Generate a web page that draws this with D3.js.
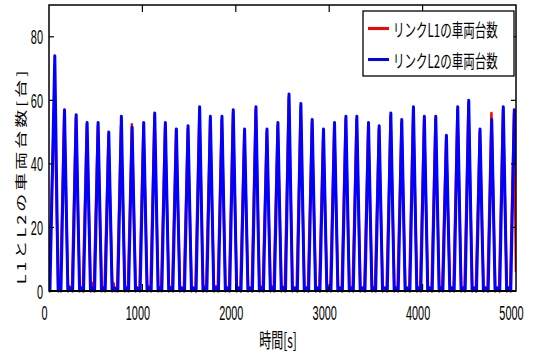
<!DOCTYPE html>
<html>
<head>
<meta charset="utf-8">
<script src="https://cdn.jsdelivr.net/npm/d3@7"></script>
<style>
  html, body { margin: 0; padding: 0; background: #fff; }
  svg { display: block; }
</style>
</head>
<body>
<svg id="chart" width="533" height="356"></svg>
<script>
// Vehicle count on link L1 (red) — [time s, vehicles]
const l1Points = [
  [0,0],[58,61],[100,0],[112,1.5],[120,0],
  [163,56],[204,0],[216,1.5],[245,0],
  [288,54.5],[329,0],[341,1],[362,0],
  [405,52.5],[446,0],[458,0],[468,2.5],[478,0],[480,0],
  [523,52],[564,0],[576,1],[594,0],
  [637,49],[678,0],[690,2.5],[705,0],[729,0],
  [771,52],[813,0],[825,1],[844,0],
  [887,52.5],[928,0],[940,1],[968,0],
  [1011,52],[1052,0],[1062,1.5],[1086,0],
  [1129,55],[1170,0],[1182,1],[1200,0],
  [1243,52],[1284,0],[1290,1.5],[1318,0],
  [1361,51],[1402,0],[1414,1],[1443,0],
  [1486,51],[1527,0],[1539,1],[1567,0],
  [1610,57],[1651,0],[1672,1.5],[1682,0],
  [1725,54],[1766,0],[1788,1.5],[1806,0],
  [1849,54],[1890,0],[1902,1],[1927,0],
  [1970,56],[2011,0],[2023,1],[2048,0],
  [2091,50],[2132,0],[2144,1],[2170,0],
  [2213,57],[2254,0],[2264,1.5],[2288,0],
  [2331,50],[2372,0],[2382,1.5],[2405,0],
  [2448,52],[2489,0],[2497,1.5],[2524,0],
  [2567,61],[2608,0],[2620,1],[2651,0],
  [2694,58],[2735,0],[2747,1],[2772,0],
  [2815,53],[2856,0],[2868,1],[2893,0],
  [2936,50],[2977,0],[2989,1],[3011,0],
  [3054,52],[3095,0],[3107,1],[3133,0],
  [3176,54],[3217,0],[3229,1],[3250,0],
  [3293,54],[3334,0],[3346,1],[3375,0],
  [3418,52],[3459,0],[3471,1],[3489,0],
  [3532,51],[3573,0],[3585,1],[3614,0],
  [3657,55],[3698,0],[3710,1],[3731,0],
  [3774,53],[3815,0],[3827,1],[3856,0],
  [3899,57],[3940,0],[3952,1],[3973,0],
  [4016,54],[4057,0],[4069,1],[4095,0],
  [4138,54],[4179,0],[4191,1],[4209,0],
  [4252,48],[4293,0],[4305,1],[4330,0],
  [4373,57],[4414,0],[4426,1],[4448,0],
  [4491,59],[4532,0],[4544,1],[4569,0],
  [4612,50],[4653,0],[4665,1],[4694,0],
  [4737,56],[4778,0],[4790,1],[4818,0],
  [4861,57],[4902,0],[4914,1],[4936,0],
  [4979,56],[5000,6]
];

// Vehicle count on link L2 (blue) — [time s, vehicles]
const l2Points = [
  [0,0],[10,0],[62,74],[98,0],[115,1],[128,0],
  [166,57],[202,0],[220,1],[253,0],
  [291,55.5],[327,0],[345,1],[370,0],
  [408,53],[444,0],[462,1],[488,0],
  [526,53],[562,0],[580,1],[602,0],
  [640,50],[676,0],[700,1],[737,0],
  [775,55],[811,0],[830,1],[852,0],
  [890,51.5],[926,0],[945,1],[976,0],
  [1014,53],[1050,0],[1070,1],[1094,0],
  [1132,56],[1168,0],[1186,1],[1208,0],
  [1246,53],[1282,0],[1302,1],[1326,0],
  [1364,51],[1400,0],[1420,1],[1451,0],
  [1489,52],[1525,0],[1545,1],[1575,0],
  [1613,58],[1649,0],[1668,1],[1690,0],
  [1728,55],[1764,0],[1790,1],[1814,0],
  [1852,55],[1888,0],[1910,1],[1935,0],
  [1973,57],[2009,0],[2030,1],[2056,0],
  [2094,51],[2130,0],[2150,1],[2178,0],
  [2216,58],[2252,0],[2272,1],[2296,0],
  [2334,51],[2370,0],[2390,1],[2413,0],
  [2451,53],[2487,0],[2510,1],[2532,0],
  [2570,62],[2606,0],[2630,1],[2659,0],
  [2697,59],[2733,0],[2755,1],[2780,0],
  [2818,54],[2854,0],[2875,1],[2901,0],
  [2939,51],[2975,0],[2995,1],[3019,0],
  [3057,53],[3093,0],[3115,1],[3141,0],
  [3179,55],[3215,0],[3235,1],[3258,0],
  [3296,55],[3332,0],[3355,1],[3383,0],
  [3421,53],[3457,0],[3475,1],[3497,0],
  [3535,52],[3571,0],[3595,1],[3622,0],
  [3660,56],[3696,0],[3715,1],[3739,0],
  [3777,54],[3813,0],[3835,1],[3864,0],
  [3902,58],[3938,0],[3958,1],[3981,0],
  [4019,55],[4055,0],[4078,1],[4103,0],
  [4141,55],[4177,0],[4195,1],[4217,0],
  [4255,49],[4291,0],[4315,1],[4338,0],
  [4376,58],[4412,0],[4432,1],[4456,0],
  [4494,60],[4530,0],[4552,1],[4577,0],
  [4615,51],[4651,0],[4675,1],[4702,0],
  [4740,54],[4776,0],[4800,1],[4826,0],
  [4864,58],[4900,0],[4920,1],[4944,0],
  [4982,57],[5000,40]
];

const xTicks = [0, 1000, 2000, 3000, 4000, 5000];
const yTicks = [0, 20, 40, 60, 80];
const legendLabels = ["リンクL1の車両台数", "リンクL2の車両台数"];
const seriesColors = ["#ff0000", "#0000ff"];
const xTitle = "時間[s]";
const yTitle = "L1とL2の車両台数[台]";

const svg = d3.select("#chart");
const plot = { left: 49, right: 516, top: 5, bottom: 291 };

const x = d3.scaleLinear().domain([0, 5000]).range([plot.left, plot.right]);
const y = d3.scaleLinear().domain([0, 90]).range([plot.bottom, plot.top]);

const numFont = "'Liberation Sans', Arial, sans-serif";
const jpFont = "'Noto Sans CJK JP', 'Noto Sans', sans-serif";

// white plot background
svg.append("rect").attr("width", 533).attr("height", 356).attr("fill", "#fff");

const clip = svg.append("clipPath").attr("id", "plotClip")
  .append("rect")
  .attr("x", plot.left).attr("y", plot.top - 2)
  .attr("width", plot.right - plot.left).attr("height", plot.bottom - plot.top + 4);

const line = d3.line().x(d => x(d[0])).y(d => y(d[1]));

const dataG = svg.append("g").attr("clip-path", "url(#plotClip)");
dataG.append("path").datum(l1Points)
  .attr("d", line).attr("fill", "none")
  .attr("stroke", seriesColors[0]).attr("stroke-width", 2.5)
  .attr("stroke-linejoin", "round");
dataG.append("path").datum(l2Points)
  .attr("d", line).attr("fill", "none")
  .attr("stroke", seriesColors[1]).attr("stroke-width", 3)
  .attr("stroke-linejoin", "round");

// axes box with inward ticks on all four sides
const axG = svg.append("g").attr("stroke", "#000").attr("fill", "none");
axG.append("rect")
  .attr("x", plot.left).attr("y", plot.top)
  .attr("width", plot.right - plot.left).attr("height", plot.bottom - plot.top)
  .attr("stroke-width", 1.5);
axG.append("line")
  .attr("x1", plot.left).attr("x2", plot.right)
  .attr("y1", plot.bottom).attr("y2", plot.bottom)
  .attr("stroke-width", 2);

const innerX = xTicks.filter(t => t > 0 && t < 5000);
axG.selectAll(".tb").data(innerX).join("line")
  .attr("x1", d => x(d)).attr("x2", d => x(d))
  .attr("y1", plot.bottom).attr("y2", plot.bottom - 7)
  .attr("stroke-width", 1.2);
axG.selectAll(".tt").data(innerX).join("line")
  .attr("x1", d => x(d)).attr("x2", d => x(d))
  .attr("y1", plot.top).attr("y2", plot.top + 7)
  .attr("stroke-width", 1.2);
const innerY = yTicks.filter(t => t > 0);
axG.selectAll(".tl").data(innerY).join("line")
  .attr("x1", plot.left).attr("x2", plot.left + 5)
  .attr("y1", d => y(d)).attr("y2", d => y(d))
  .attr("stroke-width", 1.2);
axG.selectAll(".tr").data(innerY).join("line")
  .attr("x1", plot.right).attr("x2", plot.right - 5)
  .attr("y1", d => y(d)).attr("y2", d => y(d))
  .attr("stroke-width", 1.2);

// tick labels (narrow lettering)
const numScale = 0.52;
svg.selectAll(".xl").data(xTicks).join("text")
  .attr("transform", d => `translate(${x(d) - 4.5},319.5) scale(${numScale},1)`)
  .attr("text-anchor", "middle")
  .attr("font-family", numFont).attr("font-size", 21).attr("fill", "#000")
  .text(d => d);
svg.selectAll(".yl").data(yTicks).join("text")
  .attr("transform", d => `translate(43,${y(d) + 7.5}) scale(${numScale},1)`)
  .attr("text-anchor", "end")
  .attr("font-family", numFont).attr("font-size", 21).attr("fill", "#000")
  .text(d => d);

// axis titles
svg.append("text")
  .attr("transform", "translate(278,348) scale(0.6,1)")
  .attr("text-anchor", "middle")
  .attr("font-family", jpFont).attr("font-size", 20).attr("fill", "#000")
  .text(xTitle);
svg.append("text")
  .attr("transform", "translate(26,176) scale(0.68,1) rotate(-90)")
  .attr("text-anchor", "middle")
  .attr("font-family", jpFont).attr("font-size", 18).attr("letter-spacing", 3)
  .attr("fill", "#000")
  .text(yTitle);

// legend
const lg = svg.append("g");
lg.append("rect")
  .attr("x", 363).attr("y", 11).attr("width", 151).attr("height", 65)
  .attr("fill", "#fff").attr("stroke", "#000").attr("stroke-width", 1.3);
const rowY = [28.5, 59.5];
legendLabels.forEach((lab, i) => {
  lg.append("line")
    .attr("x1", 368).attr("x2", 389).attr("y1", rowY[i]).attr("y2", rowY[i])
    .attr("stroke", seriesColors[i]).attr("stroke-width", 3);
  lg.append("text")
    .attr("transform", `translate(393,${rowY[i] + 8.5}) scale(0.64,1)`)
    .attr("font-family", jpFont).attr("font-size", 18).attr("fill", "#000")
    .text(lab);
});
</script>
</body>
</html>
